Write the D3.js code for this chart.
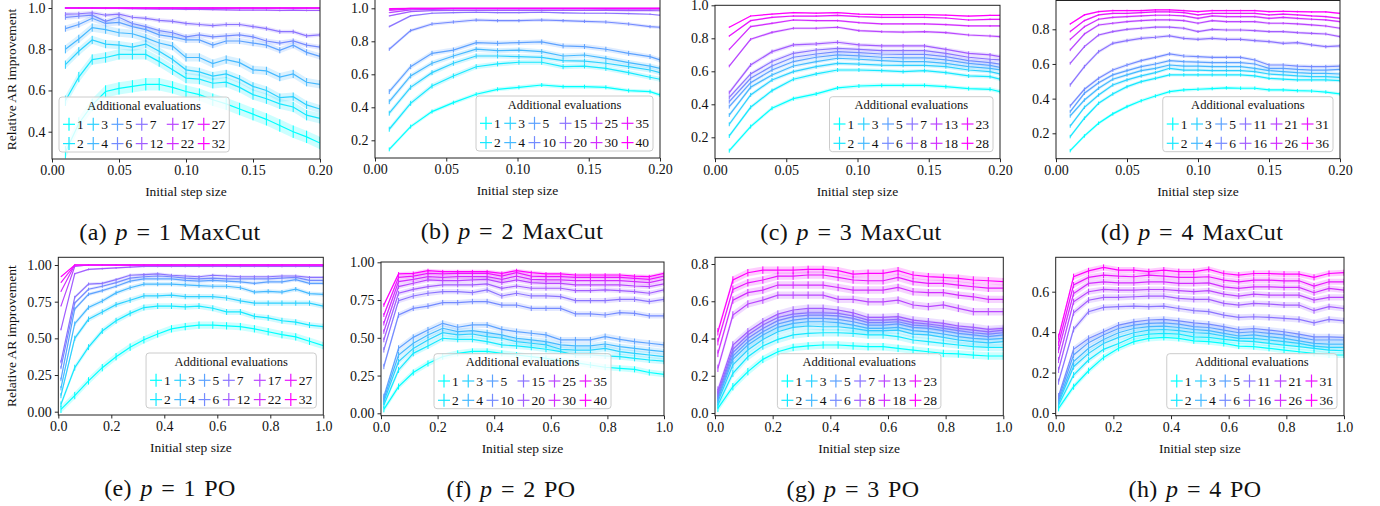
<!DOCTYPE html>
<html>
<head>
<meta charset="utf-8">
<script src="https://cdn.jsdelivr.net/npm/d3@7"></script>
<style>
  body { margin: 0; background: #fff; }
  svg text { font-family: "Liberation Serif", "Times New Roman", serif; fill: #111; }
</style>
</head>
<body>
<div id="fig"></div>
<script>
// ---- x grids (initial step size) ----
const xFine = [0.01,0.02,0.03,0.04,0.05,0.06,0.07,0.08,0.09,0.10,0.11,0.12,0.13,0.14,0.15,0.16,0.17,0.18,0.19,0.20];
const xCoarse = [0.01,0.025,0.040,0.055,0.071,0.086,0.101,0.117,0.132,0.147,0.162,0.178,0.193,0.20];
const xPO = [0.01,0.062,0.114,0.166,0.218,0.271,0.323,0.375,0.427,0.479,0.531,0.583,0.635,0.687,0.74,0.792,0.844,0.896,0.948,1.0];

// ---- legend labels (additional evaluations) ----
const evalsP1 = [1,2,3,4,5,6,7,12,17,22,27,32];
const evalsP2 = [1,2,3,4,5,10,15,20,25,30,35,40];
const evalsP3 = [1,2,3,4,5,6,7,8,13,18,23,28];
const evalsP4 = [1,2,3,4,5,6,11,16,21,26,31,36];

// ---- (a) p=1 MaxCut ----
const meanA = [
  [0.30,0.44,0.53,0.595,0.61,0.62,0.63,0.63,0.615,0.595,0.58,0.555,0.535,0.51,0.485,0.46,0.43,0.40,0.375,0.345],
  [0.55,0.665,0.75,0.76,0.775,0.775,0.775,0.74,0.70,0.66,0.655,0.635,0.64,0.615,0.58,0.56,0.535,0.52,0.48,0.465],
  [0.725,0.79,0.845,0.825,0.82,0.81,0.825,0.79,0.75,0.70,0.69,0.67,0.68,0.655,0.62,0.60,0.565,0.57,0.53,0.51],
  [0.80,0.85,0.905,0.895,0.88,0.875,0.855,0.83,0.815,0.76,0.76,0.73,0.75,0.735,0.70,0.695,0.665,0.68,0.64,0.63],
  [0.90,0.92,0.95,0.925,0.93,0.91,0.895,0.87,0.86,0.845,0.845,0.82,0.84,0.84,0.83,0.82,0.795,0.82,0.785,0.765],
  [0.955,0.96,0.965,0.935,0.955,0.925,0.91,0.89,0.88,0.86,0.87,0.86,0.865,0.87,0.86,0.84,0.83,0.84,0.82,0.81],
  [0.97,0.972,0.977,0.965,0.97,0.955,0.95,0.94,0.935,0.925,0.92,0.915,0.92,0.92,0.91,0.90,0.885,0.885,0.865,0.87],
  [1.0,1.0,0.999,0.998,0.998,0.997,0.996,0.995,0.995,0.993,0.993,0.992,0.991,0.99,0.99,0.99,0.988,0.99,0.988,0.988],
  [1,1,1,1,1,1,1,1,0.999,0.999,0.999,0.999,0.999,0.999,0.999,0.999,0.999,0.999,0.999,0.999],
  [1,1,1,1,1,1,1,1,1,1,1,1,1,1,1,1,1,1,1,1],
  [1,1,1,1,1,1,1,1,1,1,1,1,1,1,1,1,1,1,1,1],
  [1,1,1,1,1,1,1,1,1,1,1,1,1,1,1,1,1,1,1,1]
];
const stdA = [0.03,0.025,0.02,0.02,0.015,0.012,0.01,0.004,0.002,0.001,0.001,0.001];

// ---- (b) p=2 MaxCut ----
const meanB = [
  [0.145,0.283,0.374,0.428,0.479,0.509,0.521,0.535,0.525,0.525,0.521,0.501,0.495,0.475],
  [0.267,0.424,0.529,0.59,0.646,0.663,0.673,0.673,0.646,0.65,0.636,0.61,0.582,0.57],
  [0.364,0.521,0.61,0.667,0.711,0.711,0.707,0.703,0.683,0.68,0.667,0.646,0.626,0.61],
  [0.434,0.59,0.667,0.711,0.752,0.743,0.747,0.737,0.711,0.717,0.697,0.671,0.65,0.636],
  [0.495,0.646,0.727,0.747,0.792,0.788,0.792,0.796,0.772,0.768,0.752,0.727,0.707,0.687],
  [0.752,0.865,0.905,0.917,0.929,0.925,0.925,0.929,0.925,0.921,0.917,0.905,0.889,0.885],
  [0.889,0.954,0.97,0.974,0.976,0.974,0.974,0.976,0.972,0.97,0.97,0.968,0.964,0.958],
  [0.954,0.98,0.986,0.988,0.988,0.988,0.988,0.988,0.988,0.987,0.987,0.986,0.986,0.985],
  [0.974,0.99,0.994,0.996,0.996,0.996,0.996,0.996,0.996,0.996,0.995,0.995,0.995,0.995],
  [0.988,0.996,0.998,0.999,0.999,0.999,0.999,0.999,0.999,0.999,0.999,0.999,0.999,0.999],
  [0.994,0.999,1,1,1,1,1,1,1,1,1,1,1,1],
  [0.998,1,1,1,1,1,1,1,1,1,1,1,1,1]
];
const stdB = [0.012,0.015,0.015,0.015,0.015,0.01,0.005,0.003,0.002,0.001,0.001,0.001];

// ---- (c) p=3 MaxCut ----
const meanC = [
  [0.119,0.265,0.376,0.434,0.463,0.499,0.511,0.515,0.515,0.515,0.507,0.495,0.491,0.477],
  [0.208,0.382,0.483,0.552,0.584,0.608,0.608,0.604,0.598,0.604,0.592,0.572,0.568,0.552],
  [0.279,0.457,0.547,0.598,0.628,0.648,0.644,0.638,0.636,0.636,0.628,0.608,0.598,0.584],
  [0.335,0.503,0.578,0.632,0.659,0.679,0.673,0.665,0.659,0.659,0.648,0.628,0.618,0.608],
  [0.386,0.531,0.608,0.659,0.685,0.699,0.693,0.685,0.681,0.681,0.669,0.648,0.636,0.624],
  [0.416,0.558,0.632,0.685,0.705,0.719,0.713,0.705,0.703,0.703,0.689,0.665,0.653,0.644],
  [0.442,0.584,0.659,0.709,0.729,0.739,0.733,0.725,0.725,0.725,0.709,0.685,0.673,0.669],
  [0.471,0.638,0.719,0.76,0.766,0.776,0.76,0.754,0.754,0.754,0.733,0.709,0.699,0.689],
  [0.632,0.794,0.836,0.861,0.861,0.867,0.846,0.84,0.838,0.84,0.834,0.82,0.814,0.81],
  [0.733,0.871,0.891,0.911,0.907,0.907,0.895,0.887,0.887,0.887,0.883,0.875,0.875,0.875],
  [0.814,0.907,0.927,0.935,0.935,0.939,0.931,0.927,0.927,0.927,0.923,0.911,0.915,0.915],
  [0.867,0.935,0.947,0.956,0.952,0.956,0.947,0.943,0.943,0.943,0.941,0.935,0.939,0.939]
];
const stdC = [0.012,0.012,0.012,0.012,0.012,0.012,0.012,0.012,0.008,0.006,0.005,0.004];

// ---- (d) p=4 MaxCut ----
const meanD = [
  [0.10,0.185,0.258,0.312,0.354,0.388,0.415,0.44,0.45,0.454,0.458,0.462,0.46,0.46,0.45,0.45,0.446,0.444,0.438,0.427],
  [0.181,0.287,0.373,0.427,0.469,0.498,0.517,0.537,0.537,0.537,0.537,0.537,0.537,0.531,0.517,0.512,0.508,0.508,0.508,0.504],
  [0.242,0.35,0.421,0.479,0.508,0.531,0.55,0.575,0.565,0.565,0.562,0.562,0.562,0.556,0.542,0.537,0.531,0.527,0.527,0.523],
  [0.30,0.392,0.46,0.512,0.537,0.562,0.575,0.594,0.588,0.588,0.585,0.585,0.585,0.575,0.562,0.556,0.55,0.546,0.546,0.542],
  [0.325,0.431,0.492,0.537,0.562,0.585,0.60,0.619,0.613,0.611,0.608,0.608,0.608,0.60,0.575,0.575,0.569,0.565,0.565,0.569],
  [0.358,0.454,0.517,0.565,0.594,0.619,0.638,0.658,0.646,0.642,0.638,0.638,0.638,0.623,0.594,0.594,0.588,0.585,0.585,0.588],
  [0.479,0.585,0.671,0.719,0.735,0.748,0.754,0.762,0.748,0.742,0.748,0.742,0.742,0.735,0.729,0.719,0.723,0.71,0.70,0.704],
  [0.604,0.70,0.767,0.787,0.80,0.806,0.812,0.812,0.806,0.787,0.80,0.796,0.796,0.792,0.787,0.787,0.781,0.777,0.773,0.758],
  [0.681,0.773,0.825,0.835,0.844,0.85,0.854,0.854,0.85,0.835,0.85,0.844,0.844,0.844,0.835,0.835,0.831,0.825,0.819,0.806],
  [0.742,0.815,0.858,0.869,0.873,0.877,0.881,0.881,0.877,0.863,0.877,0.873,0.873,0.873,0.863,0.869,0.863,0.858,0.854,0.844],
  [0.787,0.85,0.883,0.892,0.892,0.896,0.90,0.90,0.896,0.883,0.892,0.892,0.892,0.892,0.883,0.887,0.883,0.877,0.873,0.863],
  [0.831,0.883,0.902,0.908,0.908,0.908,0.912,0.912,0.908,0.902,0.908,0.908,0.908,0.908,0.902,0.904,0.902,0.90,0.90,0.892]
];
const stdD = [0.01,0.01,0.01,0.01,0.01,0.01,0.01,0.008,0.007,0.006,0.005,0.005];

// ---- (e) p=1 PO ----
const meanE = [
  [0.016,0.11,0.21,0.30,0.375,0.44,0.49,0.53,0.565,0.58,0.59,0.59,0.585,0.58,0.565,0.545,0.525,0.51,0.48,0.45],
  [0.05,0.30,0.44,0.55,0.62,0.67,0.71,0.72,0.72,0.715,0.72,0.705,0.68,0.68,0.65,0.64,0.62,0.61,0.59,0.58],
  [0.11,0.50,0.63,0.68,0.73,0.76,0.79,0.79,0.795,0.785,0.785,0.785,0.775,0.755,0.74,0.74,0.74,0.74,0.74,0.72],
  [0.16,0.60,0.71,0.755,0.81,0.845,0.87,0.87,0.87,0.865,0.86,0.855,0.855,0.845,0.815,0.82,0.815,0.835,0.805,0.80],
  [0.22,0.70,0.80,0.825,0.855,0.89,0.905,0.905,0.905,0.895,0.89,0.895,0.89,0.885,0.875,0.885,0.885,0.90,0.875,0.875],
  [0.30,0.74,0.835,0.855,0.88,0.91,0.92,0.925,0.92,0.91,0.905,0.91,0.905,0.905,0.905,0.905,0.91,0.915,0.895,0.895],
  [0.34,0.78,0.87,0.875,0.90,0.93,0.935,0.94,0.93,0.925,0.92,0.93,0.925,0.92,0.92,0.92,0.925,0.925,0.915,0.915],
  [0.56,0.94,0.97,0.975,0.98,0.985,0.99,0.99,0.99,0.99,0.99,0.99,0.99,0.99,0.99,0.99,0.99,0.99,0.99,0.99],
  [0.72,0.99,1,1,1,1,1,1,1,1,1,1,1,1,1,1,1,1,1,1],
  [0.82,1,1,1,1,1,1,1,1,1,1,1,1,1,1,1,1,1,1,1],
  [0.88,1,1,1,1,1,1,1,1,1,1,1,1,1,1,1,1,1,1,1],
  [0.92,1,1,1,1,1,1,1,1,1,1,1,1,1,1,1,1,1,1,1]
];
const stdE = [0.025,0.02,0.018,0.015,0.012,0.01,0.01,0.006,0.003,0.002,0.001,0.001];

// ---- (f) p=2 PO ----
const meanF = [
  [0.026,0.177,0.27,0.33,0.375,0.397,0.41,0.41,0.397,0.386,0.375,0.364,0.349,0.336,0.32,0.305,0.298,0.291,0.27,0.258],
  [0.055,0.287,0.397,0.446,0.497,0.49,0.49,0.475,0.453,0.446,0.437,0.424,0.408,0.386,0.386,0.38,0.375,0.364,0.353,0.345],
  [0.077,0.342,0.43,0.486,0.534,0.519,0.525,0.508,0.497,0.475,0.464,0.453,0.424,0.419,0.419,0.43,0.408,0.397,0.386,0.375],
  [0.093,0.386,0.464,0.519,0.563,0.541,0.547,0.534,0.519,0.497,0.486,0.475,0.453,0.446,0.446,0.459,0.441,0.43,0.419,0.408],
  [0.11,0.43,0.503,0.552,0.596,0.57,0.585,0.585,0.556,0.541,0.53,0.519,0.486,0.486,0.486,0.508,0.49,0.475,0.464,0.453],
  [0.31,0.651,0.695,0.71,0.733,0.733,0.74,0.74,0.717,0.717,0.695,0.695,0.695,0.658,0.658,0.651,0.667,0.662,0.645,0.645],
  [0.42,0.746,0.777,0.795,0.806,0.806,0.799,0.817,0.777,0.795,0.777,0.777,0.773,0.746,0.746,0.746,0.755,0.755,0.74,0.755],
  [0.486,0.795,0.821,0.839,0.85,0.85,0.85,0.857,0.828,0.843,0.828,0.828,0.828,0.812,0.812,0.817,0.812,0.806,0.795,0.817],
  [0.541,0.839,0.861,0.883,0.879,0.879,0.883,0.887,0.865,0.883,0.865,0.861,0.861,0.85,0.85,0.85,0.85,0.843,0.839,0.857],
  [0.596,0.872,0.887,0.905,0.90,0.905,0.905,0.905,0.887,0.909,0.887,0.883,0.883,0.879,0.879,0.879,0.879,0.872,0.865,0.887],
  [0.651,0.90,0.909,0.927,0.923,0.927,0.927,0.927,0.909,0.932,0.909,0.905,0.905,0.90,0.90,0.90,0.90,0.894,0.887,0.909],
  [0.717,0.923,0.927,0.945,0.938,0.938,0.938,0.938,0.927,0.945,0.932,0.923,0.923,0.916,0.916,0.916,0.916,0.909,0.905,0.927]
];
const stdF = [0.02,0.02,0.02,0.02,0.02,0.018,0.018,0.016,0.015,0.015,0.013,0.012];

// ---- (g) p=3 PO ----
const meanG = [
  [0.025,0.141,0.222,0.288,0.329,0.352,0.36,0.365,0.365,0.36,0.356,0.356,0.347,0.338,0.329,0.32,0.317,0.311,0.306,0.306],
  [0.043,0.213,0.302,0.36,0.395,0.419,0.428,0.431,0.431,0.428,0.419,0.419,0.41,0.392,0.383,0.374,0.365,0.356,0.352,0.352],
  [0.061,0.258,0.338,0.395,0.436,0.46,0.467,0.463,0.463,0.454,0.442,0.442,0.445,0.424,0.419,0.406,0.392,0.383,0.377,0.383],
  [0.073,0.288,0.365,0.419,0.46,0.481,0.49,0.49,0.485,0.472,0.454,0.454,0.46,0.442,0.436,0.424,0.41,0.401,0.395,0.401],
  [0.084,0.306,0.383,0.436,0.478,0.499,0.508,0.508,0.503,0.49,0.472,0.472,0.478,0.46,0.454,0.442,0.428,0.419,0.41,0.419],
  [0.097,0.324,0.401,0.454,0.496,0.517,0.526,0.526,0.521,0.508,0.485,0.485,0.49,0.472,0.467,0.454,0.442,0.431,0.424,0.431],
  [0.109,0.342,0.419,0.472,0.513,0.531,0.538,0.538,0.535,0.521,0.499,0.499,0.503,0.485,0.478,0.467,0.454,0.445,0.436,0.445],
  [0.123,0.365,0.436,0.49,0.531,0.553,0.562,0.562,0.553,0.538,0.513,0.513,0.517,0.499,0.49,0.481,0.467,0.46,0.449,0.454],
  [0.24,0.526,0.585,0.606,0.633,0.633,0.633,0.633,0.61,0.61,0.597,0.597,0.606,0.58,0.571,0.58,0.562,0.544,0.544,0.544],
  [0.32,0.606,0.646,0.66,0.687,0.687,0.687,0.687,0.674,0.66,0.66,0.66,0.674,0.651,0.646,0.646,0.633,0.624,0.61,0.61],
  [0.383,0.664,0.699,0.714,0.735,0.735,0.741,0.741,0.728,0.714,0.71,0.71,0.728,0.705,0.696,0.696,0.687,0.678,0.67,0.67],
  [0.436,0.714,0.753,0.767,0.767,0.767,0.771,0.771,0.764,0.746,0.75,0.75,0.764,0.741,0.732,0.728,0.723,0.714,0.71,0.705]
];
const stdG = [0.02,0.02,0.02,0.02,0.02,0.02,0.02,0.02,0.02,0.02,0.02,0.02];

// ---- (h) p=4 PO ----
const meanH = [
  [0.023,0.13,0.209,0.275,0.32,0.353,0.369,0.374,0.369,0.357,0.353,0.344,0.331,0.328,0.32,0.311,0.303,0.295,0.287,0.287],
  [0.04,0.188,0.262,0.315,0.344,0.377,0.39,0.394,0.39,0.377,0.374,0.364,0.357,0.353,0.344,0.336,0.328,0.32,0.311,0.308],
  [0.051,0.229,0.295,0.344,0.374,0.397,0.41,0.413,0.407,0.397,0.394,0.381,0.369,0.369,0.361,0.353,0.344,0.331,0.325,0.325],
  [0.061,0.254,0.32,0.364,0.397,0.418,0.427,0.43,0.423,0.413,0.407,0.394,0.381,0.386,0.377,0.369,0.357,0.344,0.341,0.341],
  [0.072,0.287,0.348,0.386,0.418,0.435,0.443,0.446,0.44,0.427,0.423,0.41,0.397,0.402,0.394,0.386,0.374,0.361,0.361,0.361],
  [0.084,0.315,0.369,0.402,0.435,0.451,0.46,0.463,0.456,0.446,0.44,0.427,0.413,0.418,0.41,0.402,0.39,0.377,0.377,0.374],
  [0.155,0.414,0.501,0.522,0.526,0.529,0.526,0.529,0.517,0.506,0.501,0.484,0.473,0.476,0.473,0.468,0.463,0.446,0.463,0.456],
  [0.213,0.496,0.558,0.572,0.572,0.575,0.578,0.578,0.567,0.562,0.562,0.542,0.534,0.542,0.539,0.534,0.534,0.506,0.526,0.517],
  [0.262,0.55,0.60,0.611,0.608,0.608,0.611,0.611,0.605,0.60,0.605,0.588,0.578,0.588,0.583,0.583,0.583,0.558,0.572,0.572],
  [0.311,0.591,0.641,0.649,0.644,0.644,0.649,0.649,0.641,0.641,0.644,0.624,0.616,0.624,0.624,0.621,0.621,0.595,0.616,0.608],
  [0.344,0.633,0.671,0.682,0.677,0.674,0.682,0.677,0.671,0.671,0.674,0.657,0.649,0.657,0.657,0.654,0.654,0.628,0.649,0.649],
  [0.377,0.674,0.703,0.72,0.707,0.707,0.699,0.707,0.699,0.699,0.71,0.69,0.682,0.69,0.69,0.687,0.687,0.671,0.69,0.694]
];
const stdH = [0.015,0.015,0.015,0.015,0.015,0.015,0.015,0.015,0.015,0.015,0.015,0.015];

// ---- x ticks ----
const ticksMaxCutX = [0, 0.05, 0.10, 0.15, 0.20];
const ticksPOX = [0, 0.2, 0.4, 0.6, 0.8, 1.0];

// matplotlib "cool" colormap
const cool = t => `rgb(${Math.round(255 * t)},${Math.round(255 * (1 - t))},255)`;

const panels = [
  { tag: "(a)", p: 1, prob: "MaxCut", xs: xFine, means: meanA, std: stdA, evals: evalsP1,
    left: 52, right: 320, top: -1, bottom: 159, yRef: [[1.0, 8], [0.4, 131.7]],
    yTicks: [0.4, 0.6, 0.8, 1.0], yFmt: ".1f", xDomain: [0, 0.2], xTicks: ticksMaxCutX, xFmt: ".2f",
    legend: "lower left", ylabel: true, capX: 170 },
  { tag: "(b)", p: 2, prob: "MaxCut", xs: xCoarse, means: meanB, std: stdB, evals: evalsP2,
    left: 375, right: 660, top: -1, bottom: 158, yRef: [[1.0, 8.3], [0.2, 140.3]],
    yTicks: [0.2, 0.4, 0.6, 0.8, 1.0], yFmt: ".1f", xDomain: [0, 0.2], xTicks: ticksMaxCutX, xFmt: ".2f",
    legend: "lower right", capX: 512 },
  { tag: "(c)", p: 3, prob: "MaxCut", xs: xCoarse, means: meanC, std: stdC, evals: evalsP3,
    left: 715, right: 1000, top: 5.3, bottom: 158.7, yRef: [[1.0, 5.3], [0.2, 137.3]],
    yTicks: [0.2, 0.4, 0.6, 0.8, 1.0], yFmt: ".1f", xDomain: [0, 0.2], xTicks: ticksMaxCutX, xFmt: ".2f",
    legend: "lower right", capX: 851 },
  { tag: "(d)", p: 4, prob: "MaxCut", xs: xFine, means: meanD, std: stdD, evals: evalsP4,
    left: 1056, right: 1340, top: 0.5, bottom: 158.7, yRef: [[0.8, 29.3], [0.2, 133.3]],
    yTicks: [0.2, 0.4, 0.6, 0.8], yFmt: ".1f", xDomain: [0, 0.2], xTicks: ticksMaxCutX, xFmt: ".2f",
    legend: "lower right", capX: 1192 },
  { tag: "(e)", p: 1, prob: "PO", xs: xPO, means: meanE, std: stdE, evals: evalsP1,
    left: 58.3, right: 323.3, top: 257.3, bottom: 415, yRef: [[1.0, 265], [0, 411.7]],
    yTicks: [0, 0.25, 0.5, 0.75, 1.0], yFmt: ".2f", xDomain: [0, 1], xTicks: ticksPOX, xFmt: ".1f",
    legend: "lower right", ylabel: true, capX: 170 },
  { tag: "(f)", p: 2, prob: "PO", xs: xPO, means: meanF, std: stdF, evals: evalsP2,
    left: 381, right: 664, top: 262, bottom: 415.7, yRef: [[1.0, 262.3], [0, 413.3]],
    yTicks: [0, 0.25, 0.5, 0.75, 1.0], yFmt: ".2f", xDomain: [0, 1], xTicks: ticksPOX, xFmt: ".1f",
    legend: "lower center", capX: 511 },
  { tag: "(g)", p: 3, prob: "PO", xs: xPO, means: meanG, std: stdG, evals: evalsP3,
    left: 715, right: 1003.3, top: 257.3, bottom: 415.7, yRef: [[0.8, 264], [0, 413]],
    yTicks: [0, 0.2, 0.4, 0.6, 0.8], yFmt: ".1f", xDomain: [0, 1], xTicks: ticksPOX, xFmt: ".1f",
    legend: "lower center", capX: 853 },
  { tag: "(h)", p: 4, prob: "PO", xs: xPO, means: meanH, std: stdH, evals: evalsP4,
    left: 1055.7, right: 1344, top: 257.3, bottom: 415.7, yRef: [[0.6, 291.7], [0, 413]],
    yTicks: [0, 0.2, 0.4, 0.6], yFmt: ".1f", xDomain: [0, 1], xTicks: ticksPOX, xFmt: ".1f",
    legend: "lower right", capX: 1195 }
];

const W = 1380, H = 506;
const svg = d3.select("#fig").append("svg").attr("width", W).attr("height", H);

const TICK_FS = 14, LABEL_FS = 13.5;

panels.forEach((cfg, pi) => {
  const g = svg.append("g");
  const x = d3.scaleLinear().domain(cfg.xDomain).range([cfg.left, cfg.right]);
  const y = d3.scaleLinear().domain([cfg.yRef[0][0], cfg.yRef[1][0]]).range([cfg.yRef[0][1], cfg.yRef[1][1]]);

  const clipId = "clip" + pi;
  g.append("clipPath").attr("id", clipId).append("rect")
    .attr("x", cfg.left).attr("y", cfg.top)
    .attr("width", cfg.right - cfg.left).attr("height", cfg.bottom - cfg.top);

  const plot = g.append("g").attr("clip-path", `url(#${clipId})`);
  const n = cfg.means.length;

  cfg.means.forEach((m, si) => {
    const col = cool(si / (n - 1));
    const s = cfg.std[si];
    const pts = cfg.xs.map((xv, i) => ({ x: xv, m: m[i], s: s }));

    const area = d3.area().x(d => x(d.x)).y0(d => y(d.m - d.s)).y1(d => y(d.m + d.s));
    plot.append("path").datum(pts).attr("d", area)
      .attr("fill", col).attr("fill-opacity", 0.2).attr("stroke", "none");

    const line = d3.line().x(d => x(d.x)).y(d => y(d.m));
    plot.append("path").datum(pts).attr("d", line)
      .attr("fill", "none").attr("stroke", col).attr("stroke-width", 1.2);

    plot.selectAll(null).data(pts).enter().append("line")
      .attr("x1", d => x(d.x)).attr("x2", d => x(d.x))
      .attr("y1", d => y(d.m - d.s)).attr("y2", d => y(d.m + d.s))
      .attr("stroke", col).attr("stroke-width", 1);
  });

  // axes
  const xAxis = g.append("g").attr("transform", `translate(0,${cfg.bottom})`)
    .call(d3.axisBottom(x).tickValues(cfg.xTicks).tickFormat(d3.format(cfg.xFmt))
      .tickSize(3.5).tickSizeOuter(0).tickPadding(3));
  const yAxis = g.append("g").attr("transform", `translate(${cfg.left},0)`)
    .call(d3.axisLeft(y).tickValues(cfg.yTicks).tickFormat(d3.format(cfg.yFmt))
      .tickSize(3.5).tickSizeOuter(0).tickPadding(3));
  [xAxis, yAxis].forEach(a => {
    a.select(".domain").remove();
    a.selectAll(".tick line").attr("stroke", "#111").attr("stroke-width", 0.9);
    a.selectAll(".tick text").style("font-size", TICK_FS + "px").attr("fill", "#111")
      .style("font-family", '"Liberation Serif","Times New Roman",serif');
  });

  // frame
  g.append("rect").attr("x", cfg.left).attr("y", cfg.top)
    .attr("width", cfg.right - cfg.left).attr("height", cfg.bottom - cfg.top)
    .attr("fill", "none").attr("stroke", "#222").attr("stroke-width", 1);

  // axis labels
  g.append("text").attr("x", (cfg.left + cfg.right) / 2).attr("y", cfg.bottom + 37)
    .attr("text-anchor", "middle").style("font-size", LABEL_FS + "px").text("Initial step size");
  if (cfg.ylabel) {
    const cy = (Math.max(cfg.top, 0) + cfg.bottom) / 2;
    g.append("text").attr("transform", `translate(16,${cy}) rotate(-90)`)
      .attr("text-anchor", "middle").style("font-size", LABEL_FS + "px").text("Relative AR improvement");
  }

  drawLegend(g, cfg, n);

  // caption
  const capY = cfg.bottom + 81;
  const cap = g.append("text").attr("x", cfg.capX).attr("y", capY)
    .attr("text-anchor", "middle").style("font-size", "24px")
    .style("letter-spacing", "0.4px").style("word-spacing", "2px");
  cap.append("tspan").text(cfg.tag + " ");
  cap.append("tspan").style("font-style", "italic").text("p");
  cap.append("tspan").text(` = ${cfg.p} ${cfg.prob}`);
});

function drawLegend(g, cfg, n) {
  const fs = 13.5, tfs = 12.5, hl = 12, hp = 2, cs = 3.5, pad = 4, boxH = 55, off = 7;
  const lg = g.append("g");
  const temp = lg.append("text");
  const w = (s, size) => { temp.style("font-size", size + "px").text(s); return temp.node().getComputedTextLength(); };
  const ncol = 6;
  const colW = [];
  for (let c = 0; c < ncol; c++) {
    colW.push(hl + hp + Math.max(w(String(cfg.evals[2 * c]), fs), w(String(cfg.evals[2 * c + 1]), fs)));
  }
  const title = "Additional evaluations";
  const titleW = w(title, tfs);
  temp.remove();
  const innerW = d3.sum(colW) + cs * (ncol - 1);
  const boxW = Math.max(innerW, titleW) + 2 * pad;
  let bx;
  if (cfg.legend === "lower left") bx = cfg.left + off;
  else if (cfg.legend === "lower right") bx = cfg.right - off - boxW;
  else bx = (cfg.left + cfg.right) / 2 - boxW / 2;
  const by = cfg.bottom - off - boxH;

  lg.append("rect").attr("x", bx).attr("y", by).attr("width", boxW).attr("height", boxH)
    .attr("rx", 3).attr("fill", "#fff").attr("fill-opacity", 0.8)
    .attr("stroke", "#cccccc").attr("stroke-width", 1);

  lg.append("text").attr("x", bx + boxW / 2).attr("y", by + 8.5)
    .attr("text-anchor", "middle").attr("dominant-baseline", "central")
    .style("font-size", tfs + "px").text(title);

  let cx = bx + pad + (boxW - 2 * pad - innerW) / 2;
  for (let c = 0; c < ncol; c++) {
    for (let r = 0; r < 2; r++) {
      const idx = 2 * c + r;
      const col = cool(idx / (n - 1));
      const yy = by + 27.3 + r * 19.3;
      lg.append("line").attr("x1", cx).attr("x2", cx + hl).attr("y1", yy).attr("y2", yy)
        .attr("stroke", col).attr("stroke-width", 1.2);
      lg.append("line").attr("x1", cx + hl / 2).attr("x2", cx + hl / 2).attr("y1", yy - 6.5).attr("y2", yy + 6.5)
        .attr("stroke", col).attr("stroke-width", 1.2);
      lg.append("text").attr("x", cx + hl + hp).attr("y", yy)
        .attr("dominant-baseline", "central").style("font-size", fs + "px")
        .text(cfg.evals[idx]);
    }
    cx += colW[c] + cs;
  }
}
</script>
</body>
</html>
